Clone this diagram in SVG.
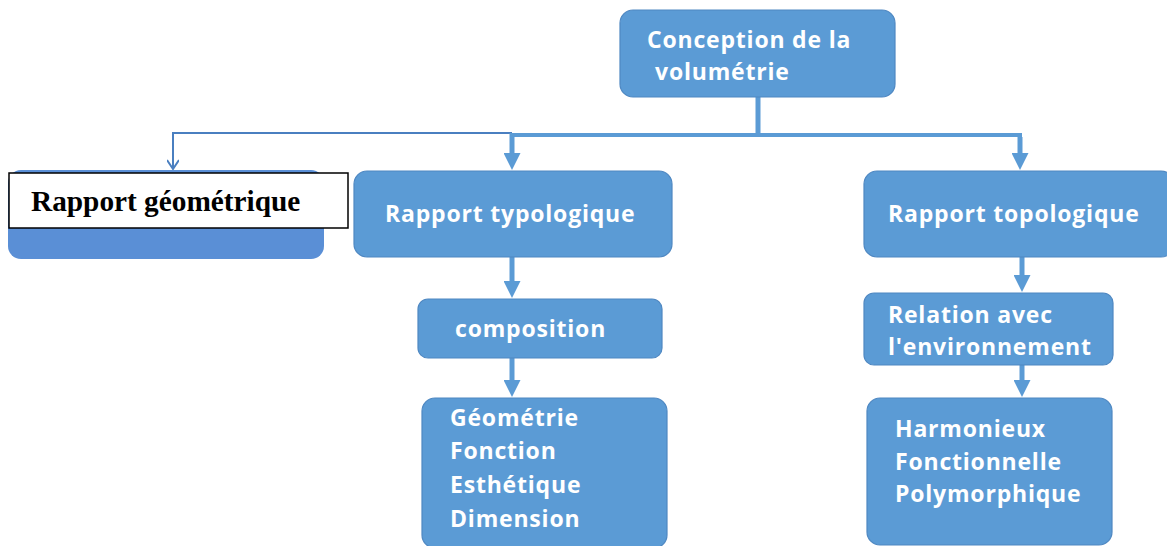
<svg xmlns="http://www.w3.org/2000/svg" width="1167" height="546" viewBox="0 0 1167 546">
  <style>
    .box { fill: #5b9bd5; stroke: #4f88c2; stroke-width: 1.2; }
    .lbl { font-family: "Open Sans", Lato, sans-serif; font-weight: bold; font-size: 23px; letter-spacing: 0.8px; fill: #ffffff; }
    .conn { fill: none; stroke: #5b9bd5; stroke-width: 5; }
    .bar { fill: none; stroke: #5b9bd5; stroke-width: 4; }
    .thin { fill: none; stroke: #4a7fc0; stroke-width: 2; }
  </style>
  <defs>
    <!-- filled head: 17px long, 17px wide at stroke-width 5 -->
    <marker id="tri" markerWidth="3.4" markerHeight="3.4" refX="1" refY="1.7" orient="auto" markerUnits="strokeWidth">
      <path d="M0,0 L3.4,1.7 L0,3.4 Z" fill="#5b9bd5"/>
    </marker>
    <marker id="vee" markerWidth="12" markerHeight="12" refX="10" refY="6" orient="auto" markerUnits="userSpaceOnUse">
      <path d="M1,0 L10,6 L1,12" fill="none" stroke="#4a7fc0" stroke-width="2"/>
    </marker>
  </defs>

  <g id="connectors">
    <!-- thin branch to the left node -->
    <path class="thin" d="M512,133 L173,133 L173,169" marker-end="url(#vee)"/>
    <!-- trunk from the top node and the distribution bar -->
    <path class="conn" d="M758,97 L758,135"/>
    <path class="bar" d="M510,135 L1020,135 L1020,150"/>
    <path class="conn" d="M512,133 L512,158" marker-end="url(#tri)"/>
    <path class="conn" d="M1020,137 L1020,158" marker-end="url(#tri)"/>
    <path class="conn" d="M512,257 L512,286" marker-end="url(#tri)"/>
    <path class="conn" d="M512,358 L512,385" marker-end="url(#tri)"/>
    <path class="conn" d="M1022,257 L1022,280" marker-end="url(#tri)"/>
    <path class="conn" d="M1022,365 L1022,385" marker-end="url(#tri)"/>
  </g>

  <g id="n-conception">
    <rect class="box" x="620" y="10" width="275" height="87" rx="13"/>
    <text class="lbl" x="647" y="48">Conception de la</text>
    <text class="lbl" x="655" y="80">volumétrie</text>
  </g>

  <g id="n-geometrique">
    <rect x="8" y="170" width="316" height="89" rx="13" fill="#5a8fd6"/>
    <rect x="9" y="173" width="339" height="55" fill="#ffffff" stroke="#000000" stroke-width="1.5"/>
    <text x="31" y="211" font-family="'Liberation Serif', serif" font-weight="bold" font-size="29.3" fill="#000000">Rapport géométrique</text>
  </g>

  <g id="n-typologique">
    <rect class="box" x="354" y="171" width="318" height="86" rx="13"/>
    <text class="lbl" x="385" y="222">Rapport typologique</text>
  </g>

  <g id="n-topologique">
    <rect class="box" x="864" y="171" width="310" height="86" rx="13"/>
    <text class="lbl" x="888" y="222">Rapport topologique</text>
  </g>

  <g id="n-composition">
    <rect class="box" x="418" y="299" width="244" height="59" rx="10"/>
    <text class="lbl" x="455" y="337">composition</text>
  </g>

  <g id="n-relation">
    <rect class="box" x="864" y="293" width="249" height="72" rx="10"/>
    <text class="lbl" x="888" y="323">Relation avec</text>
    <text class="lbl" x="888" y="355">l'environnement</text>
  </g>

  <g id="n-criteres">
    <rect class="box" x="422" y="398" width="245" height="150" rx="13"/>
    <text class="lbl" x="450" y="426">Géométrie</text>
    <text class="lbl" x="450" y="459">Fonction</text>
    <text class="lbl" x="450" y="493">Esthétique</text>
    <text class="lbl" x="450" y="527">Dimension</text>
  </g>

  <g id="n-qualites">
    <rect class="box" x="867" y="398" width="245" height="147" rx="13"/>
    <text class="lbl" x="895" y="437">Harmonieux</text>
    <text class="lbl" x="895" y="470">Fonctionnelle</text>
    <text class="lbl" x="895" y="502">Polymorphique</text>
  </g>
</svg>
